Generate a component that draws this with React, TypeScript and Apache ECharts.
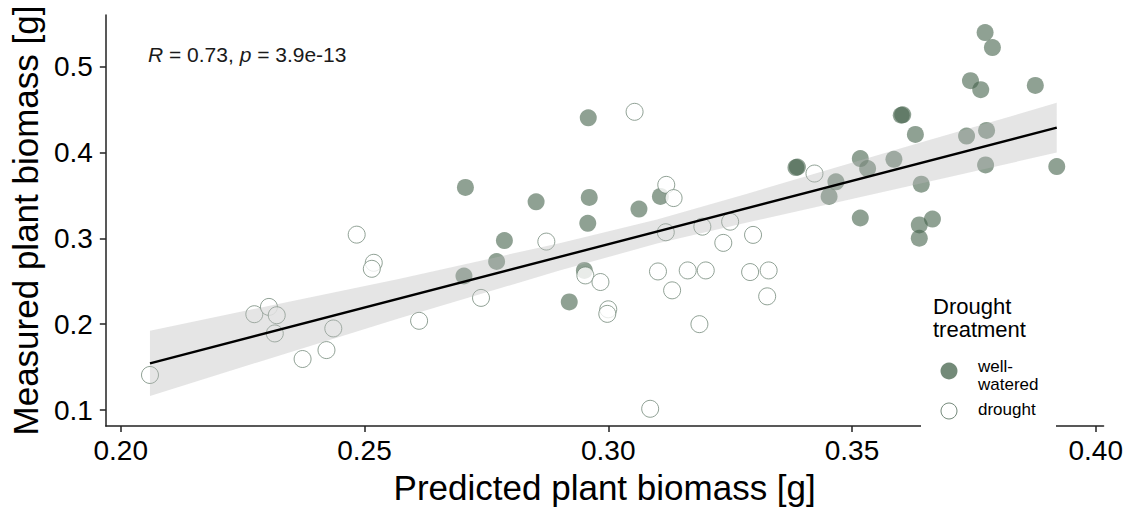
import React, { useEffect, useRef } from "react";
import * as echarts from "echarts";

// ---- data ----
const wellWateredX = [0.3773, 0.3788, 0.3743, 0.3764, 0.3876, 0.3601, 0.3604, 0.363, 0.3735, 0.3776, 0.3385, 0.3388, 0.3517, 0.3532, 0.3586, 0.3774, 0.392, 0.3467, 0.3453, 0.3642, 0.3517, 0.3638, 0.3665, 0.3638, 0.2959, 0.2707, 0.2852, 0.2961, 0.3063, 0.2958, 0.2787, 0.3107, 0.2771, 0.2704, 0.2951, 0.292];
const wellWateredY = [0.5398, 0.5224, 0.4838, 0.4733, 0.4783, 0.4435, 0.444, 0.4212, 0.4192, 0.4258, 0.3826, 0.3832, 0.393, 0.3814, 0.3922, 0.3856, 0.3837, 0.3659, 0.3489, 0.3632, 0.3238, 0.3157, 0.3226, 0.3002, 0.4405, 0.3594, 0.3427, 0.3478, 0.3342, 0.3176, 0.2975, 0.3489, 0.2731, 0.2562, 0.2627, 0.226];

const droughtX = [0.3423, 0.3054, 0.3119, 0.3134, 0.2873, 0.3118, 0.3193, 0.325, 0.3236, 0.3297, 0.2739, 0.2612, 0.2953, 0.2984, 0.3, 0.2998, 0.3102, 0.3131, 0.3163, 0.32, 0.3291, 0.3329, 0.3326, 0.3187, 0.3086, 0.2519, 0.2515, 0.206, 0.2274, 0.2304, 0.232, 0.2316, 0.2373, 0.2422, 0.2436, 0.2484];
const droughtY = [0.3756, 0.4475, 0.3624, 0.347, 0.2963, 0.3072, 0.3137, 0.3195, 0.2948, 0.3041, 0.2307, 0.204, 0.2569, 0.2492, 0.2174, 0.2121, 0.2615, 0.2395, 0.2627, 0.2627, 0.2608, 0.2627, 0.2325, 0.2001, 0.1015, 0.2716, 0.2646, 0.1409, 0.2117, 0.2202, 0.2105, 0.1893, 0.1595, 0.1699, 0.1951, 0.3044];

const fitX = [0.206, 0.392];
const fitY = [0.1545, 0.429];

const bandX = [0.206, 0.257, 0.29, 0.31, 0.3285, 0.3625, 0.392];
const bandLow = [0.1165, 0.2068, 0.2625, 0.294, 0.3185, 0.362, 0.4];
const bandHigh = [0.1925, 0.2528, 0.2945, 0.322, 0.3521, 0.409, 0.458];

const xTicks = [0.2, 0.25, 0.3, 0.35, 0.4];
const yTicks = [0.1, 0.2, 0.3, 0.4, 0.5];

const annotationText = "{i|R} = 0.73, {i|p} = 3.9e-13";
const xTitle = "Predicted plant biomass [g]";
const yTitle = "Measured plant biomass [g]";
const legendTitle = "Drought\ntreatment";
const legendLabels = ["well-\nwatered", "drought"];

const FONT = "'Liberation Sans', Arial, sans-serif";
const FILL = "rgba(68,99,75,0.75)";
const HOLLOW_BORDER = "#74897a";

export default function App() {
  const ref = useRef<HTMLDivElement>(null);
  useEffect(() => {
    if (!ref.current) return;
    const chart = echarts.init(ref.current, null, { renderer: "svg" });
    const wet = wellWateredX.map((x, i) => [x, wellWateredY[i]]);
    const dry = droughtX.map((x, i) => [x, droughtY[i]]);
    const fit = fitX.map((x, i) => [x, fitY[i]]);
    const band = bandX.map((x, i) => [x, bandLow[i], bandHigh[i]]);
    chart.setOption({
      animation: false,
      backgroundColor: "#ffffff",
      grid: { left: 104, right: 17, top: 15, bottom: 82 },
      xAxis: {
        type: "value",
        min: 0.19694,
        max: 0.4016,
        name: xTitle,
        nameLocation: "middle",
        nameGap: 44,
        nameTextStyle: { fontFamily: FONT, fontSize: 35, color: "#000" },
        axisLine: { onZero: false, lineStyle: { color: "#222", width: 1.5 } },
        axisTick: { show: true, length: 6, customValues: xTicks, lineStyle: { color: "#222", width: 1.5 } },
        axisLabel: {
          customValues: xTicks,
          margin: 10,
          fontFamily: FONT,
          fontSize: 28,
          color: "#000",
          formatter: (v: number) => v.toFixed(2),
        },
        splitLine: { show: false },
      },
      yAxis: {
        type: "value",
        min: 0.08145,
        max: 0.5603,
        name: yTitle,
        nameLocation: "middle",
        nameGap: 61,
        nameTextStyle: { fontFamily: FONT, fontSize: 35, color: "#000" },
        axisLine: { show: true, onZero: false, lineStyle: { color: "#222", width: 1.5 } },
        axisTick: { show: true, length: 6, customValues: yTicks, lineStyle: { color: "#222", width: 1.5 } },
        axisLabel: {
          customValues: yTicks,
          margin: 13,
          fontFamily: FONT,
          fontSize: 28,
          color: "#000",
          formatter: (v: number) => v.toFixed(1),
        },
        splitLine: { show: false },
      },
      series: [
        {
          type: "scatter",
          name: "well-watered",
          data: wet,
          symbol: "circle",
          symbolSize: 17,
          z: 2,
          itemStyle: { color: FILL },
        },
        {
          type: "scatter",
          name: "drought",
          data: dry,
          symbol: "circle",
          symbolSize: 17,
          z: 2,
          itemStyle: { color: "#ffffff", borderColor: HOLLOW_BORDER, borderWidth: 1 },
        },
        {
          type: "custom",
          name: "band",
          data: band,
          z: 3,
          silent: true,
          encode: { x: 0, y: [1, 2] },
          renderItem: (params: any, api: any) => {
            if (params.dataIndex !== 0) return null;
            const upper = band.map((d) => api.coord([d[0], d[2]]));
            const lower = band.map((d) => api.coord([d[0], d[1]])).reverse();
            return {
              type: "polygon",
              shape: { points: upper.concat(lower) },
              style: { fill: "rgba(185,185,185,0.37)" },
            };
          },
        },
        {
          type: "line",
          name: "fit",
          data: fit,
          z: 4,
          symbol: "none",
          lineStyle: { color: "#000", width: 2.4 },
        },
      ],
      graphic: [
        {
          type: "text",
          x: 148,
          y: 54,
          z: 10,
          style: {
            text: annotationText,
            fontFamily: FONT,
            fontSize: 21,
            fill: "#1a1a1a",
            verticalAlign: "middle",
            rich: {
              i: { fontFamily: FONT, fontSize: 21, fontStyle: "italic", fill: "#1a1a1a" },
            },
          },
        },
        {
          type: "rect",
          z: 10,
          shape: { x: 921, y: 288, width: 135, height: 145 },
          style: { fill: "#ffffff" },
        },
        {
          type: "text",
          x: 933,
          y: 294.5,
          z: 11,
          style: {
            text: legendTitle,
            fontFamily: FONT,
            fontSize: 22,
            lineHeight: 23,
            fill: "#000",
            verticalAlign: "top",
          },
        },
        {
          type: "circle",
          z: 11,
          shape: { cx: 949, cy: 371, r: 8.5 },
          style: { fill: FILL },
        },
        {
          type: "circle",
          z: 11,
          shape: { cx: 949, cy: 411, r: 8 },
          style: { fill: "#fff", stroke: HOLLOW_BORDER, lineWidth: 1 },
        },
        {
          type: "text",
          x: 978,
          y: 357,
          z: 11,
          style: {
            text: legendLabels[0],
            fontFamily: FONT,
            fontSize: 17,
            lineHeight: 18,
            fill: "#000",
            verticalAlign: "top",
          },
        },
        {
          type: "text",
          x: 978,
          y: 400,
          z: 11,
          style: {
            text: legendLabels[1],
            fontFamily: FONT,
            fontSize: 17,
            lineHeight: 18,
            fill: "#000",
            verticalAlign: "top",
          },
        },
      ],
    });
    return () => chart.dispose();
  }, []);
  return (
    <div
      ref={ref}
      style={{ position: "fixed", left: 0, top: 0, width: 1126, height: 510 }}
    />
  );
}
